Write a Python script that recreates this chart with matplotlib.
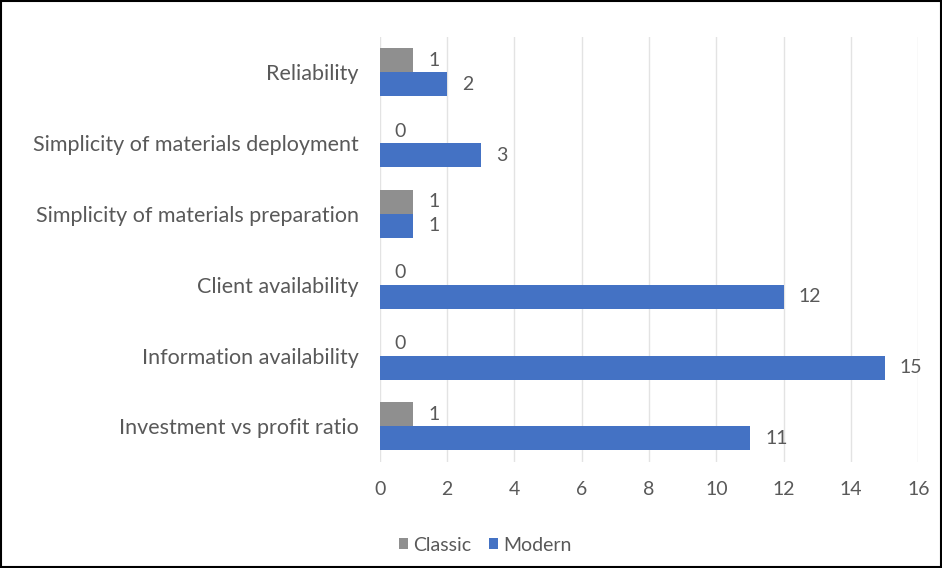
import numpy as np
import matplotlib.pyplot as plt
from matplotlib.patches import Rectangle

categories = ["Investment vs profit ratio", "Information availability", "Client availability",
              "Simplicity of materials preparation", "Simplicity of materials deployment", "Reliability"]
classic = [1, 0, 0, 1, 0, 1]
modern = [11, 15, 12, 1, 3, 2]

plt.rcParams['font.family'] = ['Lato', 'DejaVu Sans']
txt = '#595959'

fig = plt.figure(figsize=(9.42, 5.68), dpi=100)
ax = fig.add_axes([0.403, 0.187, 0.572, 0.748])

y = np.arange(len(categories))
h = 0.34
ax.barh(y + h/2, classic, height=h, color='#8f8f8f', label='Classic', zorder=3)
ax.barh(y - h/2, modern, height=h, color='#4472C4', label='Modern', zorder=3)

# value labels
for i in range(len(categories)):
    ax.text(classic[i] + 0.45, y[i] + h/2, str(classic[i]), va='center', ha='left', fontsize=14, color=txt)
    ax.text(modern[i] + 0.45, y[i] - h/2, str(modern[i]), va='center', ha='left', fontsize=14, color=txt)

ax.set_xlim(0, 16)
ax.set_ylim(-0.5, len(categories) - 0.5)
ax.set_xticks(range(0, 17, 2))
ax.set_yticks(y)
ax.set_yticklabels(categories, fontsize=15.5)
ax.tick_params(axis='both', length=0, colors=txt)
ax.tick_params(axis='x', pad=14, labelsize=14)
ax.tick_params(axis='y', pad=15)
ax.grid(axis='x', color='#e3e3e3', linewidth=1, zorder=0)
for s in ax.spines.values():
    s.set_visible(False)

handles, labels = ax.get_legend_handles_labels()
fig.legend(handles, labels, loc='center', bbox_to_anchor=(0.515, 0.04), ncol=2, frameon=False,
           fontsize=14, labelcolor=txt, handlelength=0.5, handleheight=0.5, handletextpad=0.25,
           columnspacing=0.9)

fig.patches.append(Rectangle((0.001, 0.001), 0.998, 0.997, transform=fig.transFigure,
                             fill=False, edgecolor='black', linewidth=1.5))

fig.savefig('out.png', dpi=100)
